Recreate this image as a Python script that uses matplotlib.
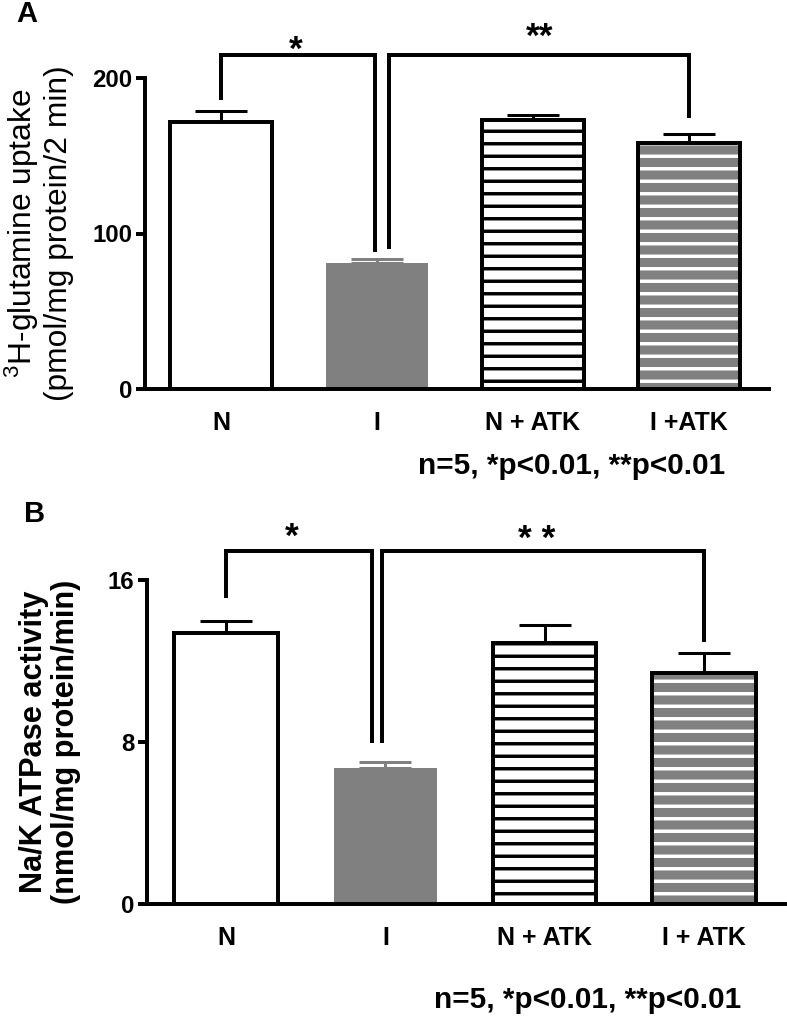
import numpy as np
import matplotlib
matplotlib.use("Agg")
import matplotlib.pyplot as plt

# ---------------- data ----------------
categories_a = ["N", "I", "N + ATK", "I +ATK"]
categories_b = ["N", "I", "N + ATK", "I + ATK"]
uptake_mean = [172, 81, 173, 158]
uptake_sem = [7, 2.5, 3, 6]
atpase_mean = [13.4, 6.7, 12.9, 11.4]
atpase_sem = [0.6, 0.3, 0.9, 1.0]
yticks_a = [0, 100, 200]
yticks_b = [0, 8, 16]
note_text = "n=5, *p<0.01, **p<0.01"

# ---------------- style ----------------
DPI = 75
W, H = 787, 1016
plt.rcParams["font.family"] = ["Liberation Sans", "DejaVu Sans"]
plt.rcParams["mathtext.default"] = "regular"
plt.rcParams["hatch.linewidth"] = 3.3

GRAY = "#808080"
LW = 3.8        # bar outline / spines
ELW = 2.9       # error bars
BLW = 3.8       # significance brackets

fig = plt.figure(figsize=(W / DPI, H / DPI), dpi=DPI)


def px_axes(left, right, top, bottom):
    return fig.add_axes([left / W, 1 - bottom / H, (right - left) / W, (bottom - top) / H])


def draw_panel(ax, cats, means, sems, yticks, ylim, xlim):
    x = np.arange(len(cats))
    means = np.asarray(means, float)
    sems = np.asarray(sems, float)
    width = 0.65
    # error bars (upper only)
    for i in range(len(x)):
        col = GRAY if i == 1 else "black"
        ax.errorbar(x[i], means[i], yerr=[[0], [sems[i]]], fmt="none", ecolor=col,
                    elinewidth=ELW, capsize=24.5, capthick=ELW, zorder=1)
    # N : open bar
    ax.bar(x[0], means[0], width, facecolor="white", edgecolor="black", linewidth=LW, zorder=2)
    # I : solid gray
    ax.bar(x[1], means[1], width, facecolor=GRAY, edgecolor=GRAY, linewidth=0, zorder=2)
    # N + ATK : white with black stripes
    ax.bar(x[2], means[2], width, facecolor="white", edgecolor="black", hatch="-",
           linewidth=0, zorder=2)
    ax.bar(x[2], means[2], width, fill=False, edgecolor="black", linewidth=LW, zorder=3)
    # I + ATK : gray with white stripes
    ax.bar(x[3], means[3], width, facecolor=GRAY, edgecolor="white", hatch="-",
           linewidth=0, zorder=2)
    ax.bar(x[3], means[3], width, fill=False, edgecolor="black", linewidth=LW, zorder=3)

    ax.set_xlim(*xlim)
    ax.set_ylim(*ylim)
    ax.set_yticks(yticks)
    ax.set_yticklabels([str(t) for t in yticks], fontsize=23, fontweight="bold")
    ax.set_xticks(x)
    ax.set_xticklabels(cats, fontsize=24, fontweight="bold")
    ax.tick_params(axis="x", length=0, pad=21)
    ax.tick_params(axis="y", length=9, width=LW, pad=3, direction="out")
    for s in ["top", "right"]:
        ax.spines[s].set_visible(False)
    for s in ["left", "bottom"]:
        ax.spines[s].set_linewidth(LW)
    ax.patch.set_alpha(0)


def bracket(ax, x0, x1, y0, ytop, y1):
    ax.plot([x0, x0, x1, x1], [y0, ytop, ytop, y1], color="black", lw=BLW,
            solid_joinstyle="miter", solid_capstyle="butt", clip_on=False, zorder=4)


# ---------------- Panel A ----------------
axA = px_axes(145, 769, 78, 389)
draw_panel(axA, categories_a, uptake_mean, uptake_sem, yticks_a, (0, 200), (-0.487, 3.513))
bracket(axA, 0.0, 0.985, 186, 215, 88)
bracket(axA, 1.075, 3.0, 90, 215, 174)
axA.text(0.48, 218, "*", ha="center", va="center", fontsize=34, fontweight="bold", clip_on=False)
axA.text(2.04, 226, "**", ha="center", va="center", fontsize=34, fontweight="bold", clip_on=False)
fig.text(38 / W, 1 - 233 / H, "$^{3}$H-glutamine uptake\n(pmol/mg protein/2 min)",
         rotation=90, ha="center", va="center", multialignment="center",
         fontsize=30.5, linespacing=1.12)
fig.text(572 / W, 1 - 466 / H, note_text, ha="center", va="center", fontsize=28.5, fontweight="bold")
fig.text(27 / W, 1 - 14 / H, "A", ha="center", va="center", fontsize=28, fontweight="bold")

# ---------------- Panel B ----------------
axB = px_axes(147, 785, 580, 904)
draw_panel(axB, categories_b, atpase_mean, atpase_sem, yticks_b, (0, 16), (-0.496, 3.509))
bracket(axB, 0.0, 0.917, 15.1, 17.43, 7.95)
bracket(axB, 0.98, 3.0, 7.95, 17.43, 12.94)
axB.text(0.414, 18.1, "*", ha="center", va="center", fontsize=34, fontweight="bold", clip_on=False)
axB.text(1.95, 18.0, "* *", ha="center", va="center", fontsize=34, fontweight="bold", clip_on=False)
fig.text(50 / W, 1 - 742 / H, "Na/K ATPase activity\n(nmol/mg protein/min)",
         rotation=90, ha="center", va="center", multialignment="center",
         fontsize=29.5, fontweight="bold", linespacing=1.12)
fig.text(588 / W, 1 - 1000 / H, note_text, ha="center", va="center", fontsize=28.5, fontweight="bold")
fig.text(35 / W, 1 - 514 / H, "B", ha="center", va="center", fontsize=28, fontweight="bold")

fig.savefig("out.png", dpi=DPI)
